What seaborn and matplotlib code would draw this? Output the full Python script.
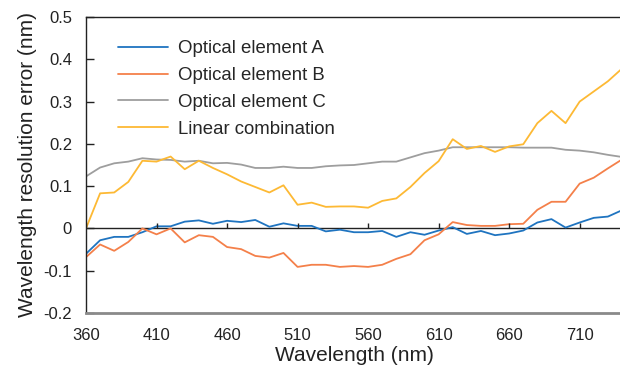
"""
Wavelength resolution error of the optical elements and their linear combination.
"""

import pandas as pd
import matplotlib
matplotlib.use('Agg')
import matplotlib.pyplot as plt
import seaborn as sns

# Data (10 nm steps)
wavelength = [360, 370, 380, 390, 400, 410, 420, 430, 440, 450,
              460, 470, 480, 490, 500, 510, 520, 530, 540, 550,
              560, 570, 580, 590, 600, 610, 620, 630, 640, 650,
              660, 670, 680, 690, 700, 710, 720, 730, 740]

element_a = [-0.060, -0.028, -0.020, -0.020, -0.009, 0.005, 0.005, 0.016, 0.019, 0.011,
             0.018, 0.015, 0.020, 0.004, 0.012, 0.006, 0.006, -0.007, -0.003, -0.009,
             -0.009, -0.006, -0.020, -0.009, -0.015, -0.005, 0.003, -0.013, -0.006, -0.016,
             -0.012, -0.005, 0.014, 0.022, 0.002, 0.014, 0.025, 0.028, 0.043]

element_b = [-0.068, -0.038, -0.053, -0.032, 0.000, -0.014, 0.000, -0.033, -0.016, -0.020,
             -0.044, -0.049, -0.065, -0.069, -0.058, -0.091, -0.086, -0.086, -0.091, -0.089,
             -0.091, -0.086, -0.072, -0.061, -0.028, -0.014, 0.015, 0.008, 0.006, 0.006,
             0.010, 0.011, 0.044, 0.063, 0.063, 0.106, 0.120, 0.142, 0.163]

element_c = [0.123, 0.144, 0.154, 0.158, 0.166, 0.163, 0.162, 0.158, 0.160, 0.154,
             0.155, 0.151, 0.143, 0.143, 0.146, 0.143, 0.143, 0.147, 0.149, 0.150,
             0.154, 0.158, 0.158, 0.168, 0.178, 0.184, 0.192, 0.192, 0.192, 0.192,
             0.192, 0.191, 0.191, 0.191, 0.186, 0.184, 0.180, 0.174, 0.169]

linear_comb = [0.000, 0.083, 0.085, 0.110, 0.160, 0.158, 0.170, 0.140, 0.160, 0.143,
               0.128, 0.111, 0.098, 0.085, 0.102, 0.056, 0.061, 0.051, 0.052, 0.052,
               0.049, 0.065, 0.071, 0.098, 0.131, 0.159, 0.211, 0.188, 0.195, 0.181,
               0.194, 0.199, 0.249, 0.278, 0.249, 0.300, 0.324, 0.348, 0.378]

series_names = ['Optical element A', 'Optical element B', 'Optical element C',
                'Linear combination']
series_colors = ['#1F74C0', '#F4804A', '#9E9E9E', '#FDB934']
x_ticks = [360, 410, 460, 510, 560, 610, 660, 710]
y_ticks = [-0.2, -0.1, 0, 0.1, 0.2, 0.3, 0.4, 0.5]
y_tick_labels = ['-0.2', '-0.1', '0', '0.1', '0.2', '0.3', '0.4', '0.5']

sns.set_theme(style="white")
plt.rcParams['font.family'] = ['Liberation Sans', 'DejaVu Sans']

df = pd.DataFrame({'wavelength': wavelength,
                   series_names[0]: element_a,
                   series_names[1]: element_b,
                   series_names[2]: element_c,
                   series_names[3]: linear_comb})
df_long = df.melt(id_vars='wavelength', var_name='serie', value_name='erro')

fig = plt.figure(figsize=(6.2, 3.69), dpi=100)
# the right end of the axis (740 nm) runs past the picture edge, as in the reference
ax = fig.add_axes([0.1387, 0.1518, 0.8645, 0.8021])

sns.lineplot(data=df_long, x='wavelength', y='erro', hue='serie',
             hue_order=series_names, palette=series_colors,
             linewidth=1.3, ax=ax)

# zero line with the x ticks drawn on it
ax.axhline(0, color='#222222', linewidth=1.0, zorder=1)
ax.vlines(x_ticks, 0, 0.014, color='#222222', linewidth=1.0)

ax.set_xlim(360, 740)
ax.set_ylim(-0.2, 0.5)
ax.set_xticks(x_ticks)
ax.set_yticks(y_ticks)
ax.set_yticklabels(y_tick_labels)
ax.tick_params(axis='x', length=0, pad=11, labelsize=12, colors='#222222')
ax.tick_params(axis='y', direction='in', length=6, width=1.0, pad=10,
               labelsize=12, left=True, colors='#222222')

for lado in ['top', 'left']:
    ax.spines[lado].set_color('#222222')
    ax.spines[lado].set_linewidth(1.0)
ax.spines['bottom'].set_color('#8A8A8A')
ax.spines['bottom'].set_linewidth(2.0)
ax.spines['right'].set_visible(False)

ax.set_xlabel('Wavelength (nm)', fontsize=15, color='#222222', labelpad=2)
ax.set_ylabel('Wavelength resolution error (nm)', fontsize=15, color='#222222',
              labelpad=5)

handles, labels = ax.get_legend_handles_labels()
ax.legend(handles, labels, loc='upper left', bbox_to_anchor=(0.06, 0.921),
          frameon=False, fontsize=13.4, handlelength=2.7, handletextpad=0.5,
          labelspacing=0.52, borderpad=0, borderaxespad=0)

fig.savefig('out.png', dpi=100)
plt.close(fig)
